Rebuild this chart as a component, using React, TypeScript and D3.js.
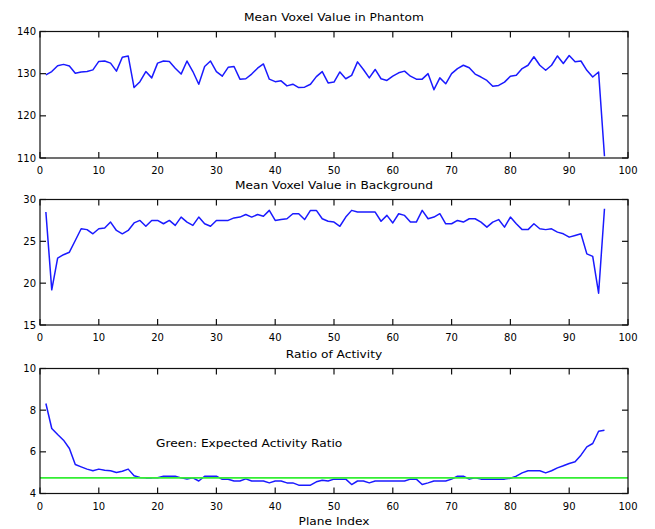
import React from "react";
import * as d3 from "d3";

const planeIndex: number[] = Array.from({ length: 96 }, (_, i) => i + 1);

const phantom: number[] = [
  129.7, 130.5, 131.9, 132.2, 131.8, 130.1, 130.4, 130.5, 130.9, 132.9,
  133.0, 132.5, 130.6, 133.9, 134.2, 126.7, 128.1, 130.5, 129.0, 132.5,
  133.0, 132.9, 131.3, 129.9, 133.0, 130.5, 127.5, 131.7, 133.0, 130.5,
  129.4, 131.5, 131.7, 128.7, 128.8, 129.9, 131.3, 132.3, 128.7, 128.1,
  128.3, 127.1, 127.5, 126.7, 126.8, 127.5, 129.3, 130.5, 127.8, 128.0,
  130.4, 128.8, 129.6, 132.8, 131.0, 129.0, 131.0, 128.8, 128.4, 129.4,
  130.2, 130.6, 129.4, 128.7, 128.7, 130.0, 126.2, 129.0, 127.6, 130.0,
  131.2, 132.0, 131.4, 129.9, 129.2, 128.4, 127.0, 127.2, 128.0, 129.4,
  129.6, 131.2, 132.0, 134.0, 132.0, 130.8, 132.0, 134.2, 132.4, 134.3,
  132.8, 133.0, 130.8, 129.2, 130.4, 110.4,
];

const background: number[] = [
  28.5, 19.2, 23.0, 23.4, 23.7, 25.1, 26.5, 26.4, 25.9, 26.5,
  26.6, 27.3, 26.3, 25.9, 26.3, 27.2, 27.5, 26.8, 27.5, 27.5,
  27.1, 27.5, 26.9, 27.9, 27.3, 26.9, 27.9, 27.1, 26.8, 27.5,
  27.5, 27.5, 27.8, 27.9, 28.2, 27.9, 28.2, 28.0, 28.7, 27.5,
  27.6, 27.7, 28.3, 28.3, 27.6, 28.7, 28.7, 27.7, 27.4, 27.3,
  26.8, 27.9, 28.7, 28.5, 28.5, 28.5, 28.5, 27.4, 28.1, 27.2,
  28.3, 28.1, 27.3, 27.3, 28.7, 27.7, 27.9, 28.3, 27.1, 27.1,
  27.5, 27.3, 27.7, 27.7, 27.3, 26.7, 27.3, 27.6, 26.7, 27.9,
  27.1, 26.4, 26.4, 27.1, 26.5, 26.4, 26.5, 26.1, 25.9, 25.5,
  25.7, 25.9, 23.5, 23.2, 18.8, 28.9,
];

const ratio: number[] = [
  8.32, 7.12, 6.83, 6.56, 6.16, 5.39, 5.28, 5.17, 5.09, 5.17,
  5.12, 5.09, 5.01, 5.07, 5.17, 4.85, 4.77, 4.75, 4.75, 4.76,
  4.83, 4.83, 4.83, 4.75, 4.7, 4.75, 4.6, 4.83, 4.83, 4.83,
  4.68, 4.68, 4.6, 4.6, 4.7, 4.6, 4.6, 4.6, 4.51, 4.6,
  4.6, 4.51, 4.51, 4.4, 4.4, 4.4, 4.56, 4.64, 4.6, 4.69,
  4.69, 4.69, 4.43, 4.6, 4.6, 4.51, 4.6, 4.6, 4.6, 4.6,
  4.6, 4.6, 4.69, 4.69, 4.43, 4.51, 4.6, 4.6, 4.6, 4.69,
  4.83, 4.83, 4.69, 4.76, 4.69, 4.69, 4.69, 4.69, 4.69, 4.73,
  4.83, 4.99, 5.09, 5.09, 5.09, 4.99, 5.09, 5.23, 5.33, 5.44,
  5.52, 5.84, 6.24, 6.4, 6.99, 7.04,
];

const expectedRatio = 4.75;

const xTicks: number[] = [0, 10, 20, 30, 40, 50, 60, 70, 80, 90, 100];
const yTicks1: number[] = [110, 120, 130, 140];
const yTicks2: number[] = [15, 20, 25, 30];
const yTicks3: number[] = [4, 6, 8, 10];

const titles: string[] = [
  "Mean Voxel Value in Phantom",
  "Mean Voxel Value in Background",
  "Ratio of Activity",
];

const W = 655;
const H = 529;
const left = 40;
const right = 628;
const font = "DejaVu Sans, Arial, sans-serif";
const wide = 1.22;

function WText({ x, y, anchor, children }: { x: number; y: number; anchor?: "start" | "middle" | "end"; children: React.ReactNode }) {
  return (
    <text
      transform={`translate(${x},${y}) scale(${wide},1)`}
      textAnchor={anchor ?? "start"}
      fontSize={10}
      fontFamily={font}
      fill="#000"
    >
      {children}
    </text>
  );
}

type PanelProps = {
  top: number;
  bottom: number;
  domain: [number, number];
  yTicks: number[];
  values: number[];
  title: string;
  expected?: number;
};

function Panel({ top, bottom, domain, yTicks, values, title, expected }: PanelProps) {
  const x = d3.scaleLinear().domain([0, 100]).range([left, right]);
  const y = d3.scaleLinear().domain(domain).range([bottom, top]);
  const line = d3
    .line<number>()
    .x((_, i) => x(planeIndex[i]))
    .y((d) => y(d));
  const tl = 6;
  return (
    <g>
      <WText x={(left + right) / 2} y={top - 11} anchor="middle">
        {title}
      </WText>
      <path d={line(values) ?? ""} fill="none" stroke="#1a1aff" strokeWidth={1.5} strokeLinejoin="round" />
      {expected !== undefined && (
        <line x1={left} x2={right} y1={y(expected)} y2={y(expected)} stroke="#33ee33" strokeWidth={1.7} />
      )}
      <rect x={left} y={top} width={right - left} height={bottom - top} fill="none" stroke="#111" strokeWidth={1.2} />
      {xTicks.map((t) => (
        <g key={"x" + t}>
          <line x1={x(t)} x2={x(t)} y1={bottom} y2={bottom - tl} stroke="#111" strokeWidth={1.2} />
          <line x1={x(t)} x2={x(t)} y1={top} y2={top + tl} stroke="#111" strokeWidth={1.2} />
          <text x={x(t)} y={bottom + 16} textAnchor="middle" fontSize={10} fontFamily={font} fill="#000">
            {t}
          </text>
        </g>
      ))}
      {yTicks.map((t) => (
        <g key={"y" + t}>
          <line x1={left} x2={left + tl} y1={y(t)} y2={y(t)} stroke="#111" strokeWidth={1.2} />
          <line x1={right} x2={right - tl} y1={y(t)} y2={y(t)} stroke="#111" strokeWidth={1.2} />
          <text x={left - 4} y={y(t) + 3.5} textAnchor="end" fontSize={10} fontFamily={font} fill="#000">
            {t}
          </text>
        </g>
      ))}
    </g>
  );
}

export default function App() {
  return (
    <svg width={W} height={H} style={{ position: "absolute", left: 0, top: 0, background: "#fff" }}>
      <rect x={0} y={0} width={W} height={H} fill="#fff" />
      <Panel top={31.5} bottom={158} domain={[110, 140]} yTicks={yTicks1} values={phantom} title={titles[0]} />
      <Panel top={199.5} bottom={325} domain={[15, 30]} yTicks={yTicks2} values={background} title={titles[1]} />
      <Panel top={368.5} bottom={493.5} domain={[4, 10]} yTicks={yTicks3} values={ratio} title={titles[2]} expected={expectedRatio} />
      <WText x={156} y={447}>Green: Expected Activity Ratio</WText>
      <WText x={334} y={525} anchor="middle">Plane Index</WText>
    </svg>
  );
}
